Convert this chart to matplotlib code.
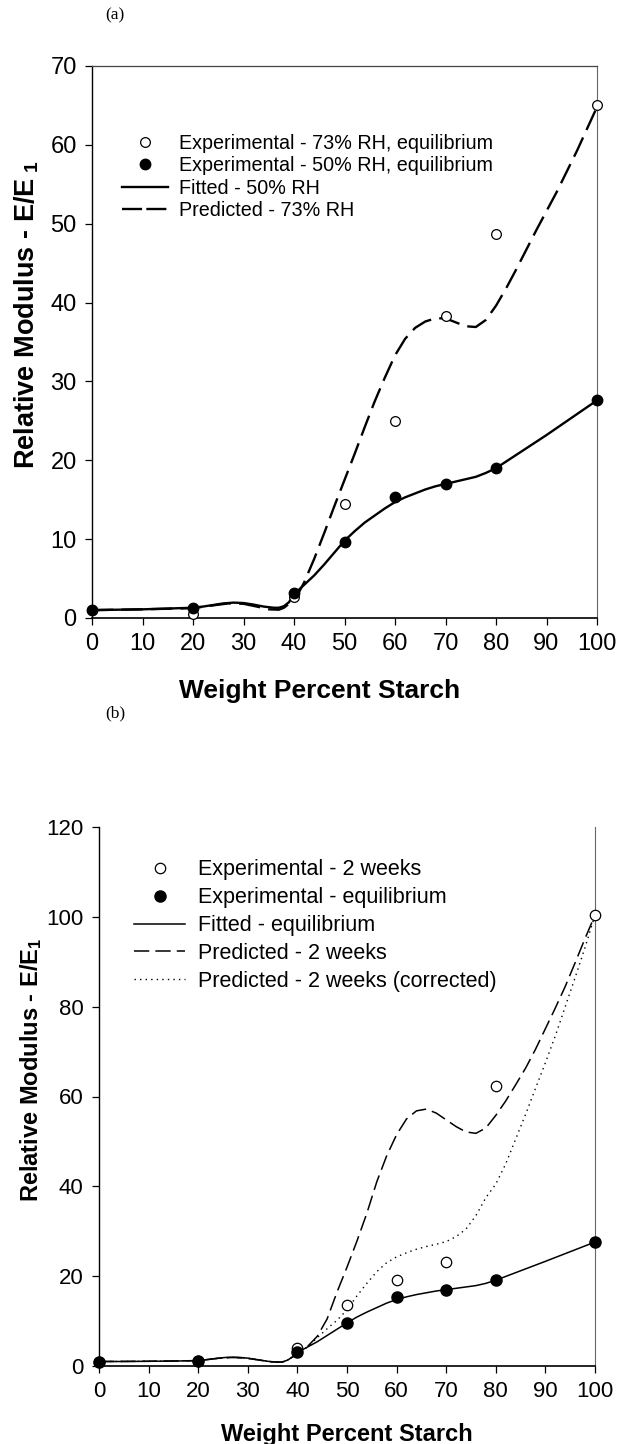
import matplotlib
matplotlib.use("Agg")
import matplotlib.pyplot as plt
from matplotlib.lines import Line2D

plt.rcParams['font.family'] = ['Liberation Sans', 'DejaVu Sans']
plt.rcParams['mathtext.fontset'] = 'custom'
plt.rcParams['mathtext.rm'] = 'Liberation Sans:bold'
plt.rcParams['mathtext.it'] = 'Liberation Sans:bold'
plt.rcParams['mathtext.bf'] = 'Liberation Sans:bold'

# ---------------- data: panel (a) ----------------
x_pts = [0, 20, 40, 50, 60, 70, 80, 100]
a_exp73 = [1.0, 0.55, 2.7, 14.5, 25.0, 38.3, 48.7, 65.0]
a_exp50 = [1.05, 1.3, 3.2, 9.7, 15.4, 17.0, 19.0, 27.6]

a_fit_x = [0, 5, 10, 15, 20, 22, 24, 26, 28, 30, 32, 34, 36, 37, 38, 39, 40, 42, 44, 46, 48, 50,
           52, 54, 56, 58, 60, 62, 64, 66, 68, 70, 72, 74, 76, 78, 80, 90, 100]
a_fit_y = [1.0, 1.05, 1.1, 1.2, 1.3, 1.45, 1.65, 1.85, 1.95, 1.9, 1.7, 1.45, 1.3, 1.3, 1.5, 2.0, 3.0,
           4.2, 5.4, 6.8, 8.3, 9.8, 11.0, 12.1, 13.0, 13.9, 14.7, 15.3, 15.8, 16.3, 16.7, 17.0,
           17.3, 17.6, 17.9, 18.4, 19.0, 23.2, 27.6]

a_pred_x = [0, 10, 20, 24, 27, 30, 33, 35, 37, 38, 39, 40, 41, 42, 44, 46, 48, 50, 52, 54, 56, 58,
            60, 62, 64, 66, 68, 70, 72, 74, 76, 78, 80, 82, 84, 86, 88, 90, 92, 94, 96, 98, 100]
a_pred_y = [1.0, 1.1, 1.25, 1.6, 1.85, 1.8, 1.4, 1.1, 1.05, 1.3, 1.8, 2.5, 3.3, 4.5, 7.5, 10.8,
            14.2, 17.5, 20.8, 24.2, 27.5, 30.5, 33.3, 35.4, 36.8, 37.6, 38.0, 38.0, 37.5, 37.0,
            36.9, 37.8, 39.6, 41.8, 44.2, 46.7, 49.2, 51.6, 54.0, 56.6, 59.2, 62.0, 64.8]

# ---------------- data: panel (b) ----------------
b_exp2w = [1.0, 1.2, 4.1, 13.6, 19.1, 23.2, 62.4, 100.5]
b_expeq = [1.0, 1.2, 3.2, 9.6, 15.3, 17.0, 19.1, 27.6]

b_fit_x = [0, 5, 10, 15, 20, 22, 24, 26, 28, 30, 32, 34, 36, 37, 38, 39, 40, 42, 44, 46, 48, 50,
           52, 54, 56, 58, 60, 62, 64, 66, 68, 70, 72, 74, 76, 78, 80, 90, 100]
b_fit_y = [1.0, 1.0, 1.05, 1.1, 1.2, 1.45, 1.75, 1.95, 1.95, 1.75, 1.4, 1.05, 0.85, 0.9, 1.3,
           2.0, 3.0, 4.2, 5.4, 6.8, 8.2, 9.6, 10.9, 12.0, 13.0, 14.0, 14.8, 15.4, 15.9, 16.3,
           16.7, 17.0, 17.3, 17.6, 17.9, 18.4, 19.1, 23.3, 27.6]

b_pred_x = [0, 10, 20, 24, 27, 30, 33, 35, 37, 38, 39, 40, 42, 44, 46, 48, 50, 52, 54, 56, 58, 60,
            62, 64, 66, 68, 70, 72, 74, 76, 78, 80, 82, 84, 86, 88, 90, 92, 94, 96, 98, 100]
b_pred_y = [1.0, 1.05, 1.2, 1.7, 1.9, 1.7, 1.2, 0.9, 0.9, 1.3, 2.0, 2.8, 4.3, 6.6, 10.5, 16.5,
            22.0, 27.8, 34.0, 41.0, 46.8, 51.5, 55.0, 56.8, 57.2, 56.3, 54.8, 53.3, 52.1, 51.8,
            53.0, 55.8, 59.0, 62.6, 66.3, 70.5, 75.1, 79.7, 84.5, 89.8, 95.2, 100.4]

b_corr_x = [0, 10, 20, 24, 27, 30, 33, 35, 37, 38, 39, 40, 42, 44, 46, 48, 50, 52, 54, 56, 58, 60,
            62, 64, 66, 68, 70, 72, 74, 76, 78, 80, 82, 84, 86, 88, 90, 92, 94, 96, 98, 100]
b_corr_y = [1.0, 1.05, 1.2, 1.7, 1.9, 1.7, 1.2, 0.9, 0.9, 1.3, 2.0, 2.8, 4.2, 6.3, 8.3, 10.2,
            12.5, 15.6, 18.4, 21.0, 23.0, 24.3, 25.2, 26.0, 26.6, 27.1, 27.7, 28.8, 30.5, 33.5,
            37.5, 40.5, 45.0, 50.5, 56.0, 61.8, 67.5, 73.5, 80.0, 86.5, 93.2, 100.4]

a_xticks = [0, 10, 20, 30, 40, 50, 60, 70, 80, 90, 100]
a_yticks = [0, 10, 20, 30, 40, 50, 60, 70]
b_xticks = [0, 10, 20, 30, 40, 50, 60, 70, 80, 90, 100]
b_yticks = [0, 20, 40, 60, 80, 100, 120]

W, H = 617, 1444
fig = plt.figure(figsize=(W / 100, H / 100), dpi=100)


def axes_px(left, right, top, bottom):
    return fig.add_axes([left / W, 1 - bottom / H, (right - left) / W, (bottom - top) / H])


def style_axes(ax, tick_fs, show_top):
    ax.spines['left'].set_linewidth(1.0)
    ax.spines['bottom'].set_linewidth(1.2)
    ax.spines['right'].set_linewidth(0.8)
    ax.spines['right'].set_color('#666666')
    if show_top:
        ax.spines['top'].set_linewidth(0.9)
        ax.spines['top'].set_color('#444444')
    else:
        ax.spines['top'].set_visible(False)
    ax.tick_params(axis='both', direction='out', length=5, width=0.9,
                   labelsize=tick_fs, top=False, right=False, pad=6)


# ---------------- panel (a) ----------------
ax1 = axes_px(92, 597, 66, 618)
ax1.plot(a_fit_x, a_fit_y, color='black', lw=1.7, solid_capstyle='butt')
ax1.plot(a_pred_x, a_pred_y, color='black', lw=1.7, dashes=(9, 3.5))
ax1.plot(x_pts, a_exp73, 'o', ms=7, mfc='white', mec='black', mew=0.9, clip_on=False, zorder=4)
ax1.plot(x_pts, a_exp50, 'o', ms=7.5, mfc='black', mec='black', clip_on=False, zorder=5)
ax1.set_xlim(0, 100)
ax1.set_ylim(0, 70)
ax1.set_xticks(a_xticks)
ax1.set_yticks(a_yticks)
style_axes(ax1, 17, True)
ax1.set_xlabel('Weight Percent Starch', fontsize=19, fontweight='bold')
ax1.xaxis.set_label_coords(0.45, -0.11)
ax1.set_ylabel(r'Relative Modulus - E/E$_{\ 1}$', fontsize=19.5, fontweight='bold')
ax1.yaxis.set_label_coords(-0.1, 0.55)

h1 = [Line2D([], [], ls='none', marker='o', ms=7, mfc='white', mec='black', mew=0.9),
      Line2D([], [], ls='none', marker='o', ms=7.5, mfc='black', mec='black'),
      Line2D([], [], color='black', lw=1.7),
      Line2D([], [], color='black', lw=1.7, dashes=(8.5, 1.8))]
l1 = ['Experimental - 73% RH, equilibrium', 'Experimental - 50% RH, equilibrium',
      'Fitted - 50% RH', 'Predicted - 73% RH']
ax1.legend(h1, l1, loc='upper left', bbox_to_anchor=(0.06, 0.877), frameon=False,
           fontsize=14.2, handlelength=2.3, handletextpad=0.6, labelspacing=0.17,
           borderaxespad=0, borderpad=0)
fig.text(105 / W, 1 - 15 / H, '(a)', fontsize=12.5, family='Liberation Serif', ha='left', va='center')

# ---------------- panel (b) ----------------
ax2 = axes_px(99, 595, 827, 1366)
ax2.plot(b_fit_x, b_fit_y, color='black', lw=1.1)
ax2.plot(b_pred_x, b_pred_y, color='black', lw=1.1, dashes=(10, 4))
ax2.plot(b_corr_x, b_corr_y, color='black', lw=1.0, dashes=(1, 3))
ax2.plot(x_pts, b_exp2w, 'o', ms=7.5, mfc='white', mec='black', mew=0.9, clip_on=False, zorder=4)
ax2.plot(x_pts, b_expeq, 'o', ms=8, mfc='black', mec='black', clip_on=False, zorder=5)
ax2.set_xlim(0, 100)
ax2.set_ylim(0, 120)
ax2.set_xticks(b_xticks)
ax2.set_yticks(b_yticks)
style_axes(ax2, 16, False)
ax2.set_xlabel('Weight Percent Starch', fontsize=17, fontweight='bold')
ax2.xaxis.set_label_coords(0.5, -0.105)
ax2.set_ylabel(r'Relative Modulus - E/E$_1$', fontsize=17, fontweight='bold')
ax2.yaxis.set_label_coords(-0.11, 0.55)

h2 = [Line2D([], [], ls='none', marker='o', ms=7.5, mfc='white', mec='black', mew=0.9),
      Line2D([], [], ls='none', marker='o', ms=8, mfc='black', mec='black'),
      Line2D([], [], color='black', lw=1.1),
      Line2D([], [], color='black', lw=1.1, dashes=(10, 4)),
      Line2D([], [], color='black', lw=1.0, dashes=(1, 3))]
l2 = ['Experimental - 2 weeks', 'Experimental - equilibrium', 'Fitted - equilibrium',
      'Predicted - 2 weeks', 'Predicted - 2 weeks (corrected)']
ax2.legend(h2, l2, loc='upper left', bbox_to_anchor=(0.07, 0.94), frameon=False,
           fontsize=15.5, handlelength=2.4, handletextpad=0.6, labelspacing=0.32,
           borderaxespad=0, borderpad=0)
fig.text(105 / W, 1 - 713 / H, '(b)', fontsize=12.5, family='Liberation Serif', ha='left', va='center')

fig.savefig('out.png', dpi=100)
